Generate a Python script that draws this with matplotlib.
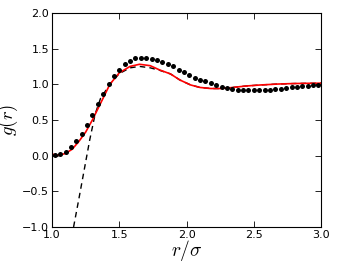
import matplotlib
matplotlib.use("Agg")
import matplotlib.pyplot as plt
import numpy as np

plt.rcParams['mathtext.fontset'] = 'cm'

# Simulation data (dots)
r_dots = [1.02 + 0.04 * i for i in range(50)]
g_dots = [0.005, 0.02, 0.056, 0.12, 0.20, 0.30, 0.43, 0.57, 0.72, 0.865,
          1.00, 1.12, 1.20, 1.28, 1.33, 1.366, 1.366, 1.366, 1.36, 1.34,
          1.31, 1.28, 1.25, 1.20, 1.165, 1.127, 1.09, 1.057, 1.04, 1.015,
          0.987, 0.963, 0.95, 0.935, 0.926, 0.92, 0.916, 0.916, 0.916, 0.916,
          0.92, 0.93, 0.94, 0.95, 0.955, 0.96, 0.97, 0.98, 0.985, 0.995]

# Theory (red solid)
r_red = [1.0, 1.05, 1.10, 1.15, 1.20, 1.25, 1.30, 1.36, 1.43, 1.50, 1.58, 1.65,
         1.73, 1.80, 1.88, 1.95, 2.03, 2.10, 2.18, 2.25, 2.32, 2.44, 2.55,
         2.68, 2.80, 2.90, 3.0]
g_red = [0.02, 0.005, 0.03, 0.09, 0.20, 0.33, 0.50, 0.73, 1.0, 1.16, 1.25, 1.28,
         1.26, 1.20, 1.145, 1.06, 0.99, 0.955, 0.94, 0.94, 0.95, 0.975, 0.99,
         1.003, 1.01, 1.013, 1.015]

# Approximation (black dashed)
r_dash = [1.16, 1.20, 1.24, 1.28, 1.32, 1.36, 1.43, 1.50, 1.58, 1.65, 1.73,
          1.80, 1.88, 1.95, 2.03, 2.10, 2.18, 2.25, 2.32, 2.44, 2.55, 2.68,
          2.80, 2.90, 3.0]
g_dash = [-1.0, -0.60, -0.19, 0.22, 0.58, 0.80, 1.0, 1.15, 1.23, 1.25, 1.23,
          1.195, 1.145, 1.06, 0.99, 0.955, 0.94, 0.94, 0.95, 0.975, 0.99,
          1.003, 1.01, 1.013, 1.015]

fig = plt.figure(figsize=(3.38, 2.63), dpi=100)
ax = fig.add_axes([0.154, 0.137, 0.796, 0.814])

ax.plot(r_dash, g_dash, color='black', linestyle='--', linewidth=1.0, dashes=(4, 3))
ax.plot(r_red, g_red, color='red', linewidth=1.2)
ax.plot(r_dots, g_dots, 'o', color='black', markersize=3.6, markeredgewidth=0)

ax.set_xlim(1.0, 3.0)
ax.set_ylim(-1.0, 2.0)
ax.set_xticks([1.0, 1.5, 2.0, 2.5, 3.0])
ax.set_yticks([-1.0, -0.5, 0.0, 0.5, 1.0, 1.5, 2.0])
ax.set_xticklabels(['1.0', '1.5', '2.0', '2.5', '3.0'])
ax.set_yticklabels(['\u22121.0', '\u22120.5', '0.0', '0.5', '1.0', '1.5', '2.0'])
ax.tick_params(direction='in', top=True, right=True, labelsize=8, length=4, width=0.6, pad=2)
for s in ax.spines.values():
    s.set_linewidth(0.8)

ax.set_xlabel(r'$r/\sigma$', fontsize=14, labelpad=-1)
ax.set_ylabel(r'$g(r)$', fontsize=13.5)
ax.yaxis.set_label_coords(-0.118, 0.5)

fig.savefig('out.png', dpi=100)
